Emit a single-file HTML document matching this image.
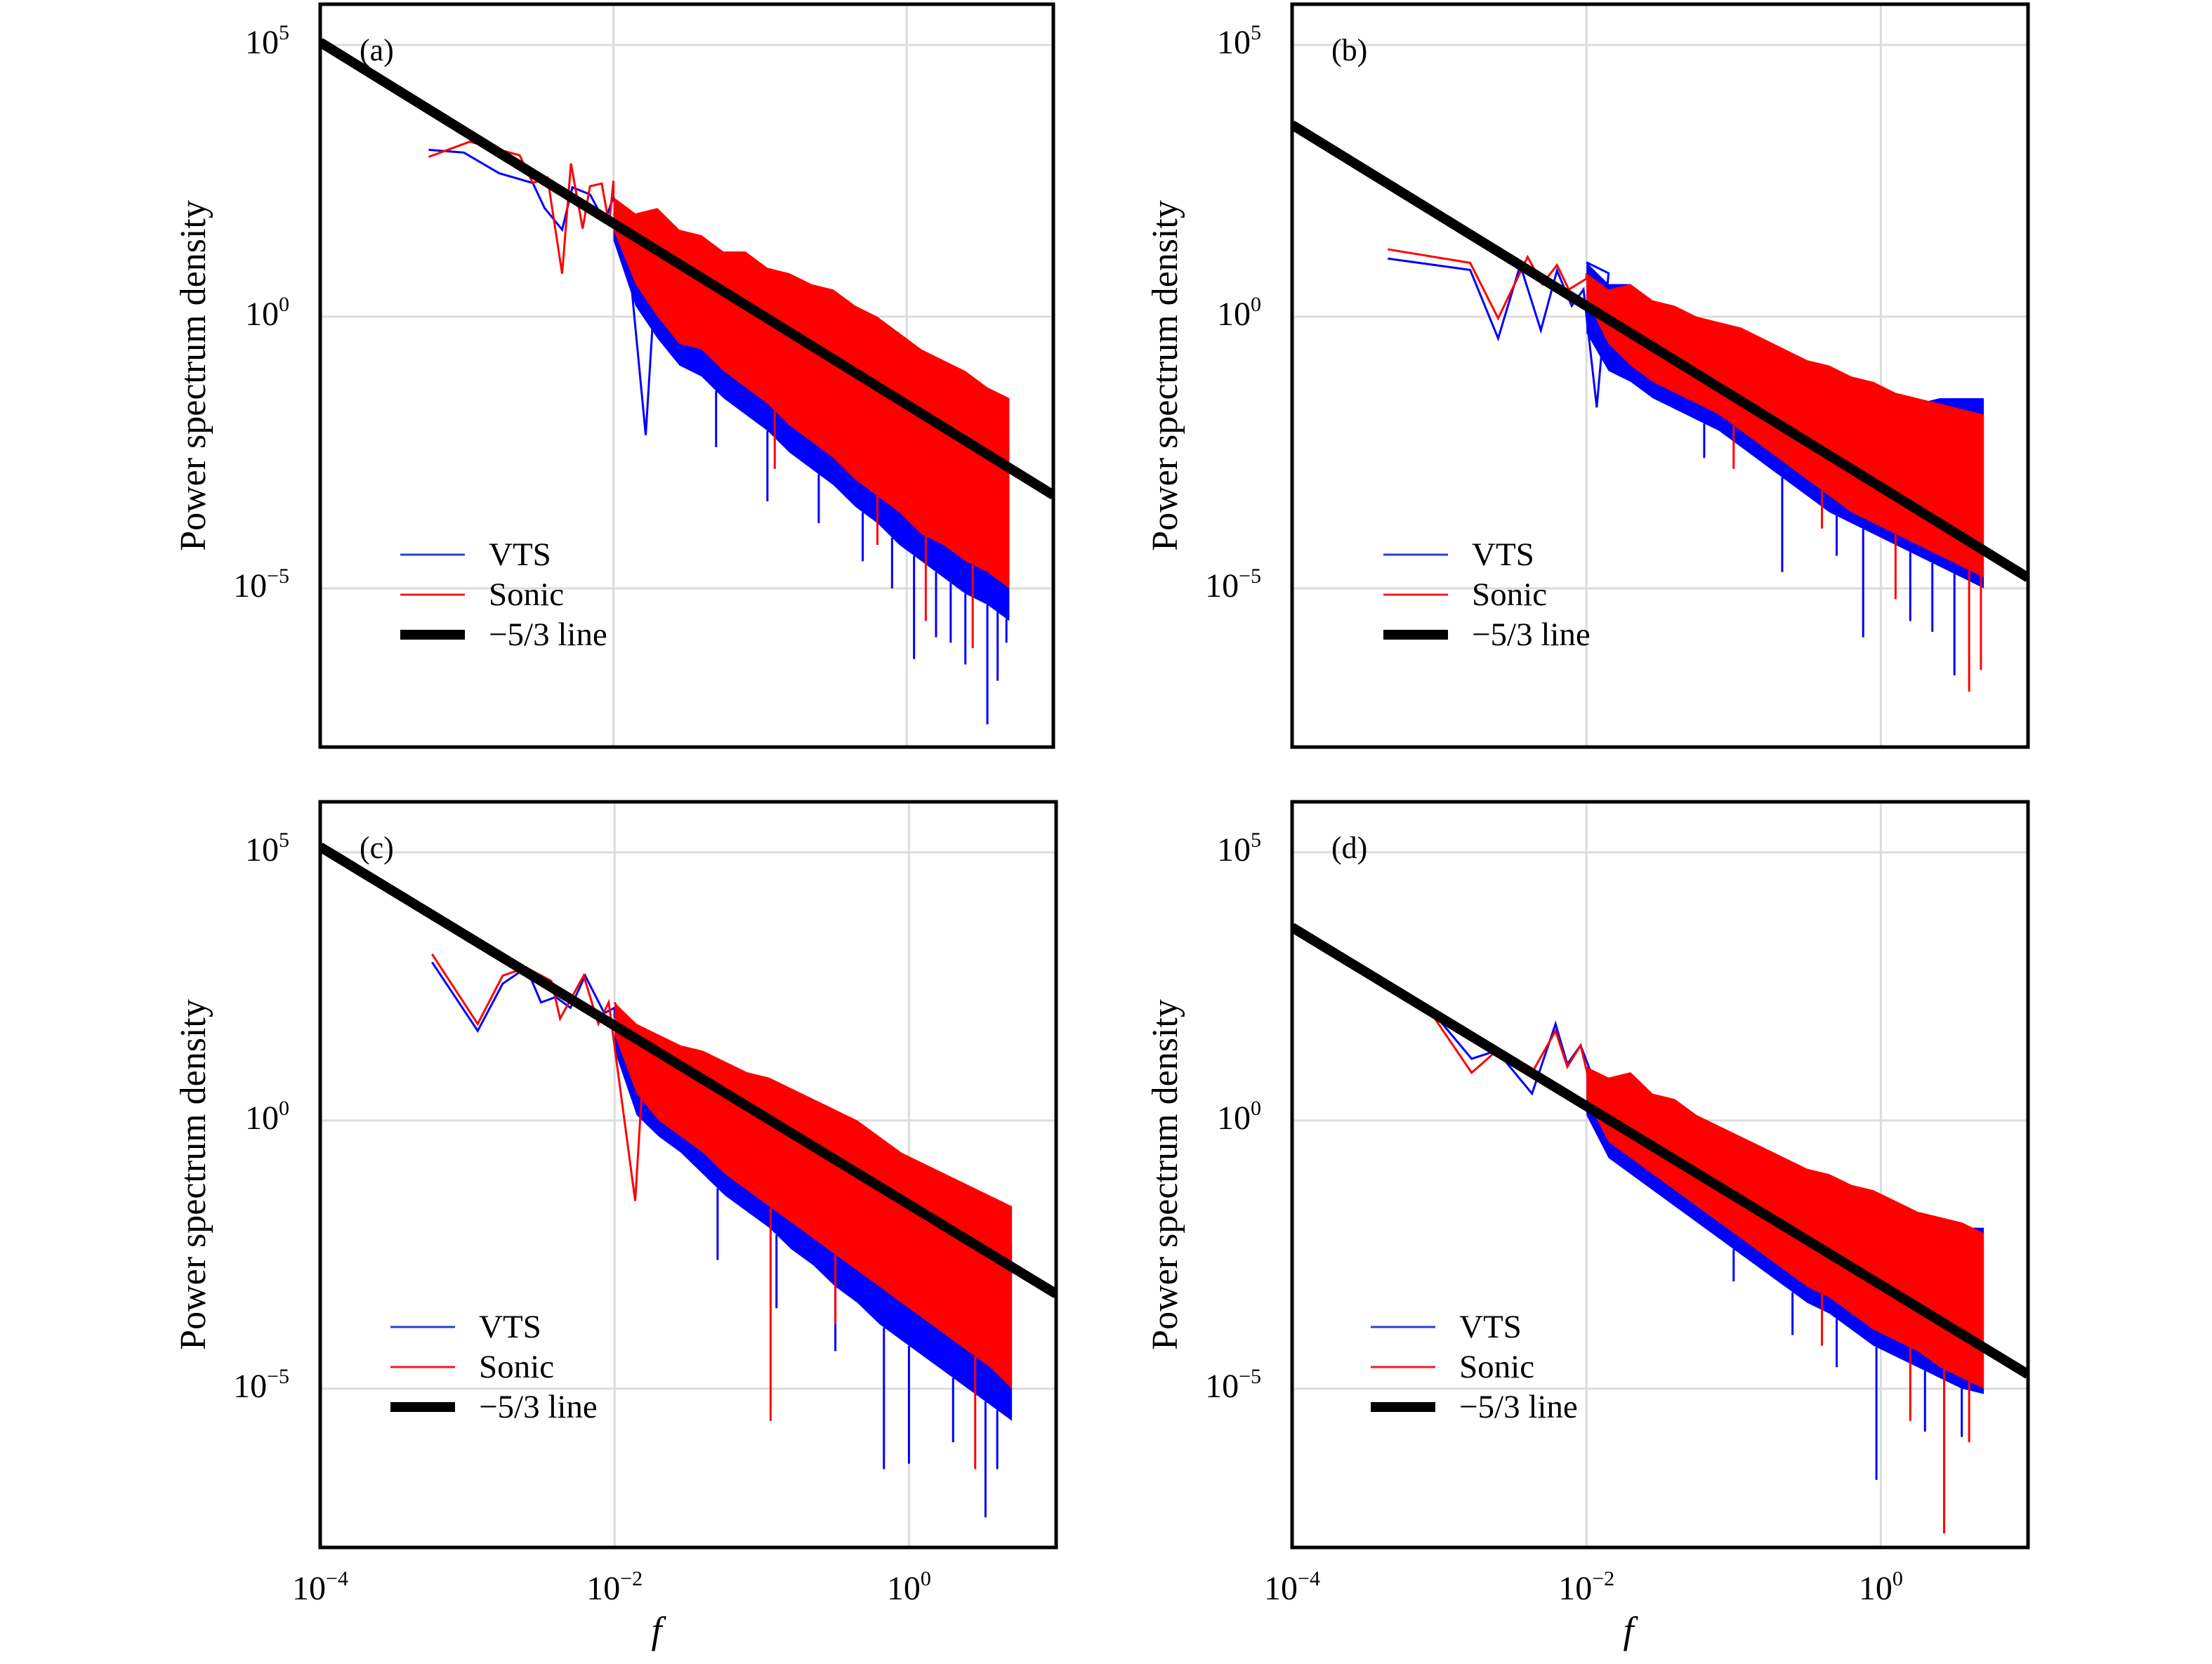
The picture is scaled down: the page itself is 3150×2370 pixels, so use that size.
<!DOCTYPE html>
<html><head><meta charset="utf-8"><style>
html,body{margin:0;padding:0;background:#fff}
svg{display:block}
text{font-family:"Liberation Serif",serif;fill:#000}
</style></head><body>
<svg id="fig" width="3150" height="2370" viewBox="0 0 3150 2370" xmlns="http://www.w3.org/2000/svg"></svg>
<script>
// ---- data (log10 values) ----
const bandLogF = [-2.0,-1.85,-1.7,-1.55,-1.4,-1.25,-1.1,-0.95,-0.8,-0.65,-0.5,-0.35,-0.2,-0.05,0.1,0.25,0.4,0.55,0.7];
const aRedHi  = [2.2,1.9,2.0,1.6,1.5,1.2,1.2,0.9,0.8,0.6,0.5,0.2,0.0,-0.3,-0.6,-0.8,-1.0,-1.3,-1.5];
const aRedLo  = [1.6,0.6,0.0,-0.5,-0.6,-1.0,-1.3,-1.6,-2.0,-2.3,-2.6,-3.0,-3.3,-3.6,-4.0,-4.2,-4.5,-4.7,-5.0];
const aBlueHi = [1.9,1.5,1.6,1.2,1.1,0.8,0.7,0.4,0.3,0.1,-0.1,-0.4,-0.6,-0.9,-1.2,-1.5,-1.7,-2.0,-2.3];
const aBlueLo = [1.4,0.2,-0.4,-0.9,-1.1,-1.5,-1.8,-2.1,-2.5,-2.8,-3.1,-3.5,-3.8,-4.2,-4.5,-4.8,-5.1,-5.3,-5.6];
const bRedHi  = [0.8,0.5,0.6,0.3,0.2,0.0,-0.1,-0.2,-0.4,-0.6,-0.8,-0.9,-1.1,-1.2,-1.4,-1.5,-1.6,-1.7,-1.8];
const bRedLo  = [0.3,-0.5,-0.9,-1.2,-1.4,-1.6,-1.8,-2.1,-2.4,-2.7,-3.0,-3.3,-3.6,-3.8,-4.0,-4.2,-4.4,-4.6,-4.8];
const bBlueHi = [1.0,0.6,0.6,0.2,0.1,-0.2,-0.3,-0.4,-0.7,-0.9,-1.0,-1.2,-1.3,-1.5,-1.6,-1.6,-1.5,-1.5,-1.5];
const bBlueLo = [-0.3,-1.0,-1.2,-1.5,-1.7,-1.9,-2.1,-2.4,-2.7,-3.0,-3.3,-3.6,-3.8,-4.0,-4.2,-4.4,-4.6,-4.8,-5.0];
const cRedHi  = [2.2,1.8,1.6,1.4,1.3,1.1,0.9,0.8,0.6,0.4,0.2,0.0,-0.3,-0.6,-0.8,-1.0,-1.2,-1.4,-1.6];
const cRedLo  = [1.6,0.5,0.0,-0.3,-0.6,-1.0,-1.3,-1.6,-1.9,-2.2,-2.5,-2.8,-3.1,-3.4,-3.7,-4.0,-4.3,-4.6,-5.0];
const cBlueHi = [1.9,1.5,1.3,1.0,0.9,0.6,0.4,0.2,0.0,-0.2,-0.5,-0.7,-0.9,-1.2,-1.5,-1.7,-1.9,-2.1,-2.3];
const cBlueLo = [1.3,0.1,-0.3,-0.6,-1.0,-1.4,-1.7,-2.0,-2.4,-2.7,-3.1,-3.4,-3.8,-4.1,-4.4,-4.7,-5.0,-5.3,-5.6];
const dRedHi  = [1.0,0.8,0.9,0.5,0.4,0.1,-0.1,-0.3,-0.5,-0.7,-0.9,-1.0,-1.2,-1.3,-1.5,-1.7,-1.8,-1.9,-2.1];
const dRedLo  = [0.4,-0.4,-0.7,-1.0,-1.3,-1.6,-1.9,-2.2,-2.5,-2.8,-3.1,-3.3,-3.6,-3.9,-4.1,-4.3,-4.6,-4.8,-5.0];
const dBlueHi = [0.9,0.6,0.6,0.2,0.1,-0.2,-0.4,-0.6,-0.8,-1.0,-1.2,-1.3,-1.5,-1.6,-1.8,-1.9,-2.0,-2.0,-2.0];
const dBlueLo = [0.1,-0.7,-1.0,-1.3,-1.6,-1.9,-2.2,-2.5,-2.8,-3.1,-3.4,-3.6,-3.9,-4.2,-4.4,-4.6,-4.8,-5.0,-5.1];

const aRedLow  = [[-3.26,2.94],[-2.98,3.22],[-2.64,2.97],[-2.55,2.46],[-2.45,2.56],[-2.35,0.79],[-2.29,2.82],[-2.21,1.62],[-2.16,2.4],[-2.08,2.45],[-2.03,1.7],[-2.0,2.5]];
const aBlueLow = [[-3.26,3.07],[-3.02,3.02],[-2.78,2.64],[-2.55,2.46],[-2.47,2.0],[-2.35,1.6],[-2.28,2.38],[-2.16,2.25],[-2.06,1.75],[-2.0,2.2],[-1.9,1.2],[-1.78,-2.18],[-1.7,1.3]];
const bRedLow  = [[-3.35,1.24],[-2.79,0.99],[-2.6,-0.03],[-2.4,1.1],[-2.3,0.6],[-2.2,0.95],[-2.12,0.5],[-2.0,0.7]];
const bBlueLow = [[-3.35,1.07],[-2.79,0.86],[-2.6,-0.4],[-2.45,0.95],[-2.31,-0.25],[-2.2,0.85],[-2.1,0.2],[-2.02,0.5],[-1.93,-1.67],[-1.85,0.8]];
const cRedLow  = [[-3.24,3.1],[-2.93,1.8],[-2.76,2.7],[-2.6,2.85],[-2.43,2.6],[-2.37,1.9],[-2.21,2.7],[-2.11,1.8],[-2.04,2.2],[-1.86,-1.5],[-1.8,1.2]];
const cBlueLow = [[-3.24,2.95],[-2.93,1.67],[-2.76,2.55],[-2.6,2.85],[-2.5,2.2],[-2.4,2.3],[-2.3,2.1],[-2.2,2.7],[-2.07,2.0],[-2.0,2.1]];
const dRedLow  = [[-3.07,2.06],[-2.78,0.89],[-2.61,1.3],[-2.37,0.89],[-2.21,1.67],[-2.13,1.0],[-2.04,1.4],[-1.97,0.6]];
const dBlueLow = [[-3.07,2.1],[-2.78,1.15],[-2.61,1.3],[-2.37,0.5],[-2.21,1.8],[-2.13,1.05],[-2.04,1.4],[-1.97,0.9]];

const aBlueSpk = [[-1.3,-2.4],[-0.95,-3.4],[-0.6,-3.8],[-0.3,-4.5],[-0.1,-5.0],[0.05,-6.3],[0.2,-5.9],[0.3,-6.0],[0.4,-6.4],[0.55,-7.5],[0.62,-6.7],[0.68,-6.0]];
const aRedSpk  = [[-0.9,-2.8],[-0.2,-4.2],[0.13,-5.6],[0.45,-6.1]];
const bBlueSpk = [[-1.2,-2.6],[-0.67,-4.7],[-0.3,-4.4],[-0.12,-5.9],[0.2,-5.6],[0.35,-5.8],[0.5,-6.6]];
const bRedSpk  = [[-1.0,-2.8],[-0.4,-3.9],[0.1,-5.2],[0.6,-6.9],[0.68,-6.5]];
const cBlueSpk = [[-1.3,-2.6],[-0.9,-3.5],[-0.5,-4.3],[-0.17,-6.5],[0.0,-6.4],[0.3,-6.0],[0.52,-7.4],[0.6,-6.5]];
const cRedSpk  = [[-0.94,-5.6],[-0.5,-3.8],[0.45,-6.5]];
const dBlueSpk = [[-1.0,-3.0],[-0.6,-4.0],[-0.3,-4.6],[-0.03,-6.7],[0.3,-5.8],[0.55,-5.9]];
const dRedSpk  = [[-0.4,-4.2],[0.2,-5.6],[0.43,-7.7],[0.6,-6.0]];

const refLineStart = [5.05, 3.53, 5.1, 3.6]; // log10 PSD of -5/3 line at f=1e-4
const xTickExp = [-4,-2,0];
const yTickExp = [5,0,-5];
const panelLabels = ["(a)","(b)","(c)","(d)"];
const legendLabels = ["VTS","Sonic","\u22125/3 line"];

// ---- layout ----
const NS="http://www.w3.org/2000/svg";
const svg=document.getElementById('fig');
function mk(tag,attrs,parent){const e=document.createElementNS(NS,tag);for(const k in attrs)e.setAttribute(k,attrs[k]);(parent||svg).appendChild(e);return e;}
const panels=[
 {x0:456,x1:1500,y0:6,y1:1064,ymax:5.75,ymin:-7.92,rh:aRedHi,rl:aRedLo,bh:aBlueHi,bl:aBlueLo,rlow:aRedLow,blow:aBlueLow,rs:aRedSpk,bs:aBlueSpk,lx:570,ly:790,bottom:false},
 {x0:1840,x1:2888,y0:6,y1:1064,ymax:5.75,ymin:-7.92,rh:bRedHi,rl:bRedLo,bh:bBlueHi,bl:bBlueLo,rlow:bRedLow,blow:bBlueLow,rs:bRedSpk,bs:bBlueSpk,lx:1970,ly:790,bottom:false},
 {x0:456,x1:1504,y0:1142,y1:2204,ymax:5.94,ymin:-7.96,rh:cRedHi,rl:cRedLo,bh:cBlueHi,bl:cBlueLo,rlow:cRedLow,blow:cBlueLow,rs:cRedSpk,bs:cBlueSpk,lx:556,ly:1890,bottom:true},
 {x0:1840,x1:2888,y0:1142,y1:2204,ymax:5.94,ymin:-7.96,rh:dRedHi,rl:dRedLo,bh:dBlueHi,bl:dBlueLo,rlow:dRedLow,blow:dBlueLow,rs:dRedSpk,bs:dBlueSpk,lx:1952,ly:1890,bottom:true}
];
const XMIN=-4, XMAX=1.0;
function interp(arrX,arrY,x){for(let i=0;i<arrX.length-1;i++){if(x>=arrX[i]&&x<=arrX[i+1]){const t=(x-arrX[i])/(arrX[i+1]-arrX[i]);return arrY[i]+t*(arrY[i+1]-arrY[i]);}}return arrY[arrY.length-1];}

panels.forEach((p,pi)=>{
 const g=mk('g',{});
 
 
 const sx=v=>p.x0+(v-XMIN)/(XMAX-XMIN)*(p.x1-p.x0);
 const sy=v=>p.y0+(p.ymax-v)/(p.ymax-p.ymin)*(p.y1-p.y0);
 const clipId='clip'+pi;
 const cp=mk('clipPath',{id:clipId},g);mk('rect',{x:p.x0,y:p.y0,width:p.x1-p.x0,height:p.y1-p.y0},cp);
 xTickExp.slice(1).forEach(e=>{const l=mk('line',{x1:sx(e),x2:sx(e),y1:p.y0,y2:p.y1,stroke:'#dcdcdc','stroke-width':3},g);});
 yTickExp.forEach(e=>{const l=mk('line',{x1:p.x0,x2:p.x1,y1:sy(e),y2:sy(e),stroke:'#dcdcdc','stroke-width':3},g);});
 const dg=mk('g',{'clip-path':'url(#'+clipId+')'},g);
 let pts=bandLogF.map((f,i)=>sx(f)+','+sy(p.bh[i])).concat(bandLogF.map((f,i)=>sx(f)+','+sy(p.bl[i])).reverse());
 const bb=mk('polygon',{points:pts.join(' '),fill:'#0000ff'},dg);
 
 
 p.bs.forEach(s=>{const l=mk('line',{x1:sx(s[0]),x2:sx(s[0]),y1:sy(interp(bandLogF,p.bl,s[0])),y2:sy(s[1]),stroke:'#0000ff','stroke-width':3},dg);});
 const bl=mk('polyline',{points:p.blow.map(q=>sx(q[0])+','+sy(q[1])).join(' ')+' '+sx(bandLogF[0])+','+sy(p.bh[0]),fill:'none',stroke:'#0000ff','stroke-width':3},dg);
 
 
 pts=bandLogF.map((f,i)=>sx(f)+','+sy(p.rh[i])).concat(bandLogF.map((f,i)=>sx(f)+','+sy(p.rl[i])).reverse());
 const rb=mk('polygon',{points:pts.join(' '),fill:'#ff0000'},dg);
 
 
 p.rs.forEach(s=>{const l=mk('line',{x1:sx(s[0]),x2:sx(s[0]),y1:sy(interp(bandLogF,p.rl,s[0])),y2:sy(s[1]),stroke:'#ff0000','stroke-width':3},dg);});
 const rl=mk('polyline',{points:p.rlow.map(q=>sx(q[0])+','+sy(q[1])).join(' ')+' '+sx(bandLogF[0])+','+sy(p.rh[0]),fill:'none',stroke:'#ff0000','stroke-width':3},dg);
 
 
 const y0=refLineStart[pi];
 const ref=mk('line',{x1:sx(XMIN),y1:sy(y0),x2:sx(XMAX),y2:sy(y0-5/3*(XMAX-XMIN)),stroke:'#000','stroke-width':14},dg);
 
 
 const fr=mk('rect',{x:p.x0,y:p.y0,width:p.x1-p.x0,height:p.y1-p.y0,fill:'none',stroke:'#000','stroke-width':5},g);
 
 
 yTickExp.forEach(e=>{const t=mk('text',{x:p.x0-44,y:sy(e)+12,'text-anchor':'end','font-size':48},g);t.textContent='10';
  
  const s=mk('tspan',{dy:-20,'font-size':30},t);s.textContent=e<0?'\u2212'+(-e):String(e);});
 if(p.bottom){xTickExp.forEach(e=>{const t=mk('text',{x:sx(e),y:p.y1+74,'text-anchor':'middle','font-size':48},g);t.textContent='10';
  
  const s=mk('tspan',{dy:-20,'font-size':30},t);s.textContent=e<0?'\u2212'+(-e):String(e);});
  const fx=mk('text',{x:(p.x0+p.x1)/2-45,y:p.y1+136,'text-anchor':'middle','font-size':54,'font-style':'italic'},g);fx.textContent='f';
  }
 const yl=mk('text',{x:0,y:0,'text-anchor':'middle','font-size':52,transform:'translate('+(p.x0-164)+','+((p.y0+p.y1)/2)+') rotate(-90)'},g);
 yl.textContent='Power spectrum density';
 
 
 const pl=mk('text',{x:p.x0+56,y:p.y0+80,'font-size':44},g);pl.textContent=panelLabels[pi];
 
 
 const lg=mk('g',{},g);
 
 
 const cols=['#2a3fd0','#ee1c24','#000'],ws=[3,3,14];
 legendLabels.forEach((lab,i)=>{const yy=p.ly+i*57;
  const ln=mk('line',{x1:p.lx,x2:p.lx+92,y1:yy,y2:yy,stroke:cols[i],'stroke-width':ws[i]},lg);
  
  const tx=mk('text',{x:p.lx+126,y:yy+15,'font-size':47},lg);tx.textContent=lab;
  });
});
</script>
</body></html>
